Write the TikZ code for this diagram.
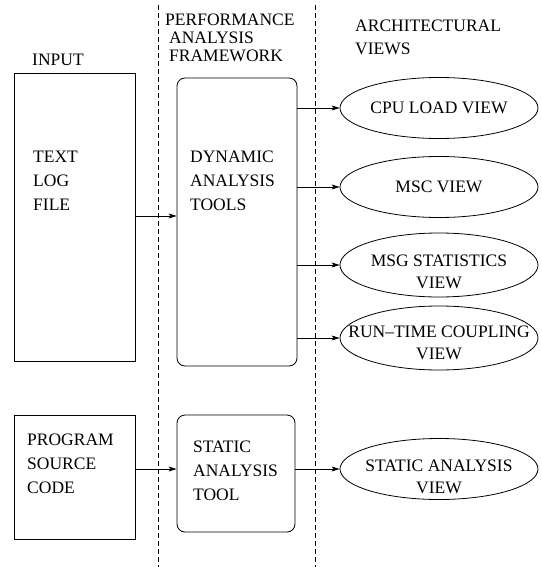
\documentclass[tikz,border=0pt]{standalone}
\usepackage{fontspec}
\setmainfont{Liberation Serif}
\usetikzlibrary{arrows.meta,shapes.geometric}
\tikzset{
  plainbox/.style={draw, line width=0.8pt, minimum width=#1, inner sep=0pt},
  roundbox/.style={draw, line width=0.8pt, rounded corners=8pt, inner sep=0pt},
  viewell/.style={draw, ellipse, line width=0.8pt, minimum width=198pt, minimum height=61pt, inner sep=0pt},
  txt/.style={inner sep=0pt, align=left, font=\fontsize{17.5}{24}\selectfont},
  ctxt/.style={inner sep=0pt, align=center, font=\fontsize{17.5}{22}\selectfont},
  conn/.style={line width=0.8pt, -{Stealth[length=8pt,width=5pt,inset=2pt]}},
  sep/.style={line width=0.8pt, dash pattern=on 5pt off 3pt}
}
\begin{document}
\begin{tikzpicture}[x=1pt,y=-1pt]
\useasboundingbox (0,0) rectangle (541,567);
% separators
\coordinate (s1t) at (158,5);
\coordinate (s1b) at (158,567);
\coordinate (s2t) at (315,5);
\coordinate (s2b) at (315,567);
\draw[sep] (s1t) -- (s1b);
\draw[sep] (s2t) -- (s2b);
% headers
\node[txt, anchor=west] (hin) at (32,60) {INPUT};
\node[txt, anchor=west, font=\fontsize{17.5}{18}\selectfont] (hpaf) at (165,38) {PERFORMANCE\\\hspace{4pt}ANALYSIS\\\hspace{4pt}FRAMEWORK};
\node[txt, anchor=west, font=\fontsize{17.5}{23}\selectfont] (hav) at (355,37.5) {ARCHITECTURAL\\VIEWS};
% boxes
\node[draw, line width=0.8pt, minimum width=121pt, minimum height=288pt] (inbox) at (74.5,217) {};
\node[draw, line width=0.8pt, minimum width=121pt, minimum height=124pt] (progbox) at (74.5,477) {};
\node[roundbox, minimum width=120pt, minimum height=288pt] (dynbox) at (237,222) {};
\node[roundbox, minimum width=118pt, minimum height=117pt] (statbox) at (236,473.5) {};
% box texts
\node[txt, anchor=west] (tlf) at (33,181) {TEXT\\LOG\\FILE};
\node[txt, anchor=west] (psc) at (27,463.5) {PROGRAM\\SOURCE\\CODE};
\node[txt, anchor=west] (dat) at (190,181) {DYNAMIC\\ANALYSIS\\TOOLS};
\node[txt, anchor=west] (sat) at (193,470.5) {STATIC\\ANALYSIS\\TOOL};
% view ellipses
\node[viewell] (cpu) at (439,108) {};
\node[viewell] (msc) at (439,187) {};
\node[viewell, minimum height=64pt] (msg) at (439,265) {};
\node[viewell, minimum height=64pt] (run) at (439,338) {};
\node[viewell] (sview) at (439,469) {};
\node[ctxt] (tcpu) at (cpu) {CPU LOAD VIEW};
\node[ctxt] (tmsc) at (msc) {MSC VIEW};
\node[ctxt] (tmsg) at (439,271.5) {MSG STATISTICS\\VIEW};
\node[ctxt] (trun) at (439,342.5) {RUN--TIME COUPLING\\VIEW};
\node[ctxt] (tsv) at (439,476.5) {STATIC ANALYSIS\\VIEW};
% connectors
\draw[conn] (inbox.east |- 0,216) -- (dynbox.west |- 0,216);
\draw[conn] (dynbox.east |- cpu) -- (cpu.west);
\draw[conn] (dynbox.east |- msc) -- (msc.west);
\draw[conn] (dynbox.east |- msg) -- (msg.west);
\draw[conn] (dynbox.east |- run) -- (run.west);
\draw[conn] (progbox.east |- sview) -- (statbox.west |- sview);
\draw[conn] (statbox.east |- sview) -- (sview.west);
\end{tikzpicture}
\end{document}
